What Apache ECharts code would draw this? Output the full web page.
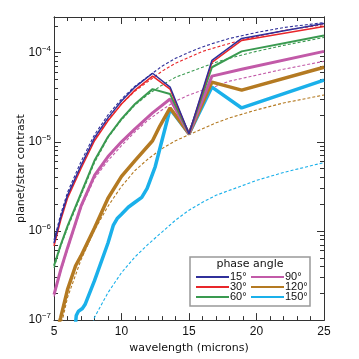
<!DOCTYPE html>
<html>
<head>
<meta charset="utf-8">
<script src="https://cdn.jsdelivr.net/npm/echarts@6/dist/echarts.min.js"></script>
<style>
  html, body { margin: 0; padding: 0; background: #fff; }
  #chart { width: 359px; height: 359px; }
</style>
</head>
<body>
<div id="chart"></div>
<script>
// wavelength grids (microns)
const lamSolid = [5, 5.5, 6, 7, 8, 9, 10, 11, 12.3, 13.6, 15, 16.7, 18.9, 25];
const lamSolid120 = [5, 5.5, 6, 6.6, 7, 8, 9, 10, 11, 12.3, 12.85, 13.6, 15, 16.7, 18.9, 25];
const lamSolid150 = [6.5, 6.65, 6.8, 7.1, 7.3, 8, 9, 9.4, 9.7, 10, 10.5, 11, 11.5, 11.9, 12.5, 13.6, 15, 16.7, 18.9, 25];
const lamModel = [5, 5.5, 6, 7, 8, 9, 10, 11, 12, 13, 14, 15, 16, 17, 18, 20, 22, 25];
const lamModel120 = [5.5, 6, 7, 8, 9, 10, 11, 12, 13, 14, 15, 16, 17, 18, 20, 22, 25];
const lamModel150 = [7.9, 8, 9, 10, 11, 12, 13, 14, 15, 16, 17, 18, 19, 20, 22, 25];

// planet/star contrast, solid curves
const solid15 = [7.33e-7, 1.428e-6, 2.51e-6, 5.42e-6, 1.111e-5, 1.855e-5, 2.87e-5, 4.11e-5, 5.88e-5, 4.11e-5, 1.231e-5, 8.21e-5, 1.443e-4, 2.12e-4];
const solid30 = [6.79e-7, 1.322e-6, 2.325e-6, 5.02e-6, 1.028e-5, 1.718e-5, 2.657e-5, 3.80e-5, 5.45e-5, 3.90e-5, 1.231e-5, 7.80e-5, 1.371e-4, 1.963e-4];
const solid60 = [4.07e-7, 6.97e-7, 1.134e-6, 2.642e-6, 6.16e-6, 1.14e-5, 1.808e-5, 2.657e-5, 3.90e-5, 3.43e-5, 1.231e-5, 6.86e-5, 1.034e-4, 1.558e-4];
const solid90 = [1.932e-7, 3.67e-7, 6.45e-7, 1.894e-6, 4.19e-6, 6.83e-6, 1.0e-5, 1.399e-5, 2.11e-5, 3.02e-5, 1.231e-5, 5.45e-5, 6.52e-5, 1.034e-4];
const solid120 = [5.65e-8, 1.072e-7, 2.197e-7, 4.07e-7, 5.25e-7, 1.077e-6, 2.325e-6, 4.09e-6, 6.16e-6, 1.028e-5, 1.511e-5, 2.397e-5, 1.231e-5, 4.67e-5, 3.80e-5, 6.86e-5];
const solid150 = [6.42e-8, 1.128e-7, 1.25e-7, 1.35e-7, 1.495e-7, 2.767e-7, 7.33e-7, 1.163e-6, 1.392e-6, 1.542e-6, 1.845e-6, 2.098e-6, 2.385e-6, 3.0e-6, 5.28e-6, 2.337e-5, 1.231e-5, 4.11e-5, 2.397e-5, 4.91e-5];

// dashed curves
const model15 = [7.92e-7, 1.542e-6, 2.712e-6, 6.0e-6, 1.2e-5, 2.003e-5, 3.02e-5, 4.21e-5, 5.45e-5, 7.04e-5, 8.64e-5, 1.008e-4, 1.16e-4, 1.302e-4, 1.443e-4, 1.683e-4, 1.912e-4, 2.175e-4];
const model30 = [7.15e-7, 1.392e-6, 2.446e-6, 5.28e-6, 1.055e-5, 1.762e-5, 2.657e-5, 3.71e-5, 4.79e-5, 6.19e-5, 7.60e-5, 8.87e-5, 1.034e-4, 1.146e-4, 1.269e-4, 1.519e-4, 1.771e-4, 2.066e-4];
const model60 = [3.86e-7, 6.79e-7, 1.077e-6, 2.51e-6, 5.85e-6, 1.111e-5, 1.762e-5, 2.589e-5, 3.43e-5, 4.32e-5, 5.31e-5, 6.03e-5, 6.86e-5, 7.80e-5, 8.64e-5, 1.034e-4, 1.206e-4, 1.48e-4];
const model90 = [1.835e-7, 3.49e-7, 6.13e-7, 1.799e-6, 3.88e-6, 6.16e-6, 9.05e-6, 1.296e-5, 1.762e-5, 2.278e-5, 2.87e-5, 3.35e-5, 3.80e-5, 4.21e-5, 4.79e-5, 5.59e-5, 6.52e-5, 8.0e-5];
const model120 = [8.29e-8, 1.789e-7, 4.74e-7, 1.023e-6, 1.894e-6, 3.16e-6, 4.77e-6, 6.48e-6, 8.38e-6, 1.028e-5, 1.2e-5, 1.399e-5, 1.632e-5, 1.855e-5, 2.278e-5, 2.725e-5, 3.35e-5];
const model150 = [9.19e-8, 1.072e-7, 2.034e-7, 3.40e-7, 5.12e-7, 7.15e-7, 9.72e-7, 1.322e-6, 1.709e-6, 2.098e-6, 2.51e-6, 2.854e-6, 3.245e-6, 3.69e-6, 4.53e-6, 5.85e-6];

const angles = ['15°', '30°', '60°', '90°', '120°', '150°'];
const colors = ['#30309a', '#e8262a', '#3a9a50', '#c25aa8', '#b47a22', '#1ab0ea'];
const widths = [1.5, 1.5, 2, 3, 3.5, 3.5];

const yMajor = [-7, -6, -5, -4];

const FONT = 'Liberation Sans, Arial, sans-serif';
const NAMEFONT = 'DejaVu Sans, sans-serif';

// minor log ticks 2..9 x 10^n
const yMinor = [];
for (let n = -7; n <= -4; n++) {
  for (let k = 2; k <= 9; k++) {
    const v = n + Math.log10(k);
    if (v < -3.6) yMinor.push(v);
  }
}

function pts(lam, val) {
  return lam.map((l, i) => [l, Math.log10(val[i])]);
}

const solidSets = [
  [lamSolid, solid15], [lamSolid, solid30], [lamSolid, solid60],
  [lamSolid, solid90], [lamSolid120, solid120], [lamSolid150, solid150]
];
const modelSets = [
  [lamModel, model15], [lamModel, model30], [lamModel, model60],
  [lamModel, model90], [lamModel120, model120], [lamModel150, model150]
];

const series = [];
modelSets.forEach((s, i) => {
  series.push({
    name: angles[i] + ' model',
    type: 'line',
    data: pts(s[0], s[1]),
    showSymbol: false,
    symbol: 'none',
    lineStyle: { color: colors[i], width: 1.1, type: [3, 2] },
    itemStyle: { color: colors[i] },
    z: 2
  });
});
solidSets.forEach((s, i) => {
  series.push({
    name: angles[i],
    type: 'line',
    data: pts(s[0], s[1]),
    showSymbol: false,
    symbol: 'none',
    lineStyle: { color: colors[i], width: widths[i] },
    itemStyle: { color: colors[i] },
    z: 3 + (5 - i)
  });
});

// legend box: two columns (15/30/60 left, 90/120/150 right), thin sample lines
const legendItems = [
  {
    type: 'rect', x: 190, y: 257, z: 50,
    shape: { width: 120, height: 49 },
    style: { fill: '#fff', stroke: '#999', lineWidth: 1.5 }
  },
  {
    type: 'text', x: 250, y: 264, z: 51,
    style: { text: 'phase angle', fill: '#111', font: '11px ' + NAMEFONT, textAlign: 'center', textVerticalAlign: 'middle' }
  }
];
angles.forEach((a, i) => {
  const col = Math.floor(i / 3);
  const row = i % 3;
  const x0 = 196 + col * 55;
  const y0 = 277 + row * 10;
  legendItems.push({
    type: 'line', z: 52,
    shape: { x1: x0, y1: y0, x2: x0 + 33, y2: y0 },
    style: { stroke: colors[i], lineWidth: 2 }
  });
  legendItems.push({
    type: 'text', x: x0 + 34, y: y0, z: 52,
    style: { text: a, fill: '#111', font: '11px ' + FONT, textAlign: 'left', textVerticalAlign: 'middle' }
  });
});

const axisLine = { show: true, lineStyle: { color: '#333', width: 1 } };

function xAx(pos, labels) {
  return {
    type: 'value', position: pos, min: 5, max: 25, interval: 5,
    axisLine: axisLine,
    axisTick: { show: true, inside: true, length: 7, lineStyle: { color: '#333' } },
    minorTick: { show: true, splitNumber: 5, length: 4, lineStyle: { color: '#333' } },
    axisLabel: { show: labels, color: '#111', fontSize: 12, fontFamily: FONT, margin: 6 },
    splitLine: { show: false },
    name: labels ? 'wavelength (microns)' : '',
    nameLocation: 'middle', nameGap: 17,
    nameTextStyle: { color: '#111', fontSize: 11, fontFamily: NAMEFONT }
  };
}

function yAx(pos, vals, len, labels) {
  return {
    type: 'value', position: pos, min: -7, max: -3.6,
    axisLine: axisLine,
    axisTick: { show: true, inside: true, length: len, customValues: vals, lineStyle: { color: '#333' } },
    axisLabel: {
      show: labels, customValues: yMajor, margin: 3,
      formatter: v => '{b|10}{s|\u2212' + (-v) + '}',
      rich: {
        b: { fontSize: 12, fontFamily: FONT, color: '#111' },
        s: { fontSize: 8, fontFamily: FONT, color: '#111', padding: [0, 0, 8, 0] }
      }
    },
    splitLine: { show: false },
    name: labels ? 'planet/star contrast' : '',
    nameLocation: 'middle', nameGap: 27, nameMoveOverlap: false,
    nameTextStyle: { color: '#111', fontSize: 11, fontFamily: NAMEFONT }
  };
}

const chart = echarts.init(document.getElementById('chart'), null, { renderer: 'canvas' });
chart.setOption({
  animation: false,
  backgroundColor: '#fff',
  grid: { left: 54, right: 35, top: 17, bottom: 36 },
  xAxis: [xAx('bottom', true), xAx('top', false)],
  yAxis: [
    yAx('left', yMajor, 7, true),
    yAx('left', yMinor, 4, false),
    yAx('right', yMajor, 7, false),
    yAx('right', yMinor, 4, false)
  ],
  graphic: legendItems,
  series: series
});
</script>
</body>
</html>
